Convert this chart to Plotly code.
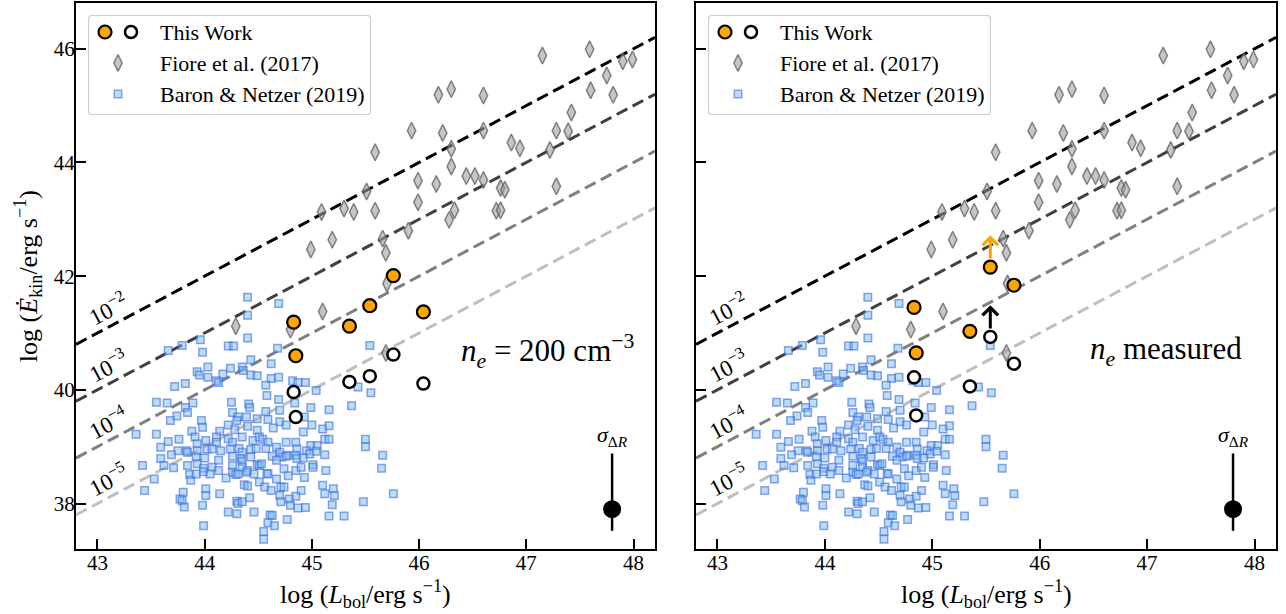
import plotly.graph_objects as go

# ---------------- data ----------------
# Fiore et al. (2017): log L_bol, log E_kin
fiore_lbol = [47.15, 47.59, 47.90, 47.99, 47.75, 47.60, 47.81, 46.18, 46.30, 46.60,
              47.42, 45.93, 46.22, 46.60, 47.28, 47.39, 45.59, 46.30, 46.86, 46.94,
              47.22, 46.30, 45.99, 46.16, 46.44, 46.52, 46.60, 46.76, 46.80, 47.28,
              45.51, 45.09, 45.30, 45.39, 45.59, 45.99, 46.33, 46.28, 46.72, 46.76,
              44.99, 45.19, 45.66, 45.90, 45.69, 45.70, 45.10, 44.29, 44.80, 45.69]
fiore_ekin = [45.88, 45.99, 45.78, 45.81, 45.53, 45.27, 45.19, 45.19, 45.29, 45.18,
              44.88, 44.56, 44.52, 44.56, 44.56, 44.55, 44.18, 44.24, 44.35, 44.25,
              44.22, 43.93, 43.68, 43.62, 43.76, 43.76, 43.69, 43.55, 43.52, 43.58,
              43.49, 43.13, 43.19, 43.13, 43.15, 43.30, 43.16, 42.99, 43.15, 43.16,
              42.47, 42.64, 42.66, 42.80, 42.41, 41.87, 41.38, 41.12, 41.06, 40.65]

# Baron & Netzer (2019): log L_bol, log E_kin
baron_lbol = [44.40, 44.69, 44.40, 44.40, 43.96, 43.79, 43.66, 43.98, 44.22, 44.27,
              44.68, 45.54, 44.43, 44.62, 44.03, 44.24, 44.35, 44.36, 43.93, 43.95,
              44.03, 44.17, 44.43, 44.49, 44.62, 44.69, 44.11, 44.13, 43.72, 43.82,
              44.57, 44.82, 44.87, 44.94, 45.04, 45.43, 45.55, 44.58, 44.69, 43.55,
              43.65, 43.89, 44.25, 44.41, 44.42, 44.84, 44.99, 45.16, 45.37, 43.82,
              43.84, 43.74, 43.68, 43.97, 43.98, 44.26, 44.31, 44.30, 44.39, 44.49,
              44.57, 44.59, 44.70, 44.70, 44.76, 44.22, 44.28, 44.40, 44.49, 44.64,
              44.93, 45.00, 44.92, 45.10, 45.16, 43.36, 43.55, 43.88, 44.14, 44.11,
              44.11, 43.66, 43.76, 43.91, 43.93, 44.01, 44.22, 44.26, 44.35, 44.45,
              44.51, 44.54, 44.59, 44.67, 44.76, 44.85, 44.86, 44.99, 45.05, 45.12,
              45.16, 45.50, 45.50, 43.59, 43.75, 43.83, 43.84, 43.93, 44.02, 44.07,
              44.15, 44.24, 44.32, 44.35, 44.43, 44.48, 44.57, 44.70, 44.77, 44.85,
              44.95, 44.98, 45.04, 45.12, 45.66, 43.59, 43.69, 43.92, 44.00, 44.13,
              44.26, 44.34, 44.35, 44.43, 44.63, 44.72, 44.76, 44.86, 44.92, 45.01,
              45.01, 43.42, 43.62, 43.71, 43.84, 43.93, 43.99, 44.07, 44.13, 44.26,
              44.26, 44.35, 44.40, 44.49, 44.51, 44.53, 44.58, 44.67, 44.74, 44.85,
              44.90, 45.13, 45.65, 43.53, 43.86, 43.87, 43.92, 43.99, 44.05, 44.20,
              44.29, 44.31, 44.39, 44.46, 44.51, 44.59, 44.67, 44.78, 44.93, 43.44,
              43.80, 44.01, 44.01, 44.14, 44.37, 44.40, 44.56, 44.62, 44.71, 44.74,
              44.90, 45.10, 45.12, 45.20, 45.21, 45.76, 43.77, 43.79, 43.81, 43.98,
              44.30, 44.31, 44.35, 44.42, 44.70, 44.71, 44.79, 44.85, 44.80, 44.87,
              44.94, 45.19, 45.48, 44.22, 44.30, 44.46, 44.61, 44.63, 44.77, 45.16,
              45.30, 43.99, 44.59, 44.65, 44.55, 44.55]
baron_ekin = [41.63, 41.52, 41.31, 40.91, 40.88, 40.78, 40.69, 40.66, 40.77, 40.77,
              40.73, 40.78, 40.53, 40.46, 40.40, 40.38, 40.40, 40.34, 40.32, 40.26,
              40.22, 40.28, 40.26, 40.25, 40.20, 40.22, 40.16, 40.13, 40.06, 40.11,
              40.08, 40.16, 40.13, 40.13, 39.99, 40.05, 39.95, 39.90, 39.83, 39.78,
              39.77, 39.77, 39.78, 39.75, 39.69, 39.77, 39.69, 39.65, 39.72, 39.69,
              39.60, 39.54, 39.46, 39.46, 39.34, 39.60, 39.52, 39.46, 39.52, 39.49,
              39.62, 39.48, 39.64, 39.44, 39.38, 39.38, 39.30, 39.36, 39.29, 39.33,
              39.52, 39.38, 39.26, 39.31, 39.37, 39.22, 39.22, 39.27, 39.27, 39.17,
              39.08, 39.09, 39.13, 39.17, 39.05, 39.11, 39.14, 39.08, 39.17, 39.11,
              39.17, 39.13, 39.08, 38.99, 39.08, 39.08, 38.96, 39.02, 39.02, 39.13,
              39.13, 39.13, 39.00, 38.99, 38.93, 38.93, 38.90, 38.93, 38.96, 38.96,
              38.93, 38.96, 38.97, 38.90, 38.95, 38.97, 38.97, 38.90, 38.85, 38.85,
              38.93, 38.87, 38.92, 38.86, 38.85, 38.79, 38.86, 38.82, 38.80, 38.76,
              38.83, 38.79, 38.74, 38.82, 38.83, 38.82, 38.83, 38.79, 38.80, 38.68,
              38.64, 38.67, 38.67, 38.63, 38.67, 38.70, 38.62, 38.64, 38.58, 38.67,
              38.55, 38.64, 38.58, 38.68, 38.67, 38.70, 38.53, 38.76, 38.61, 38.58,
              38.64, 38.58, 38.62, 38.43, 38.51, 38.41, 38.52, 38.56, 38.52, 38.45,
              38.51, 38.52, 38.55, 38.52, 38.38, 38.52, 38.43, 38.49, 38.46, 38.23,
              38.20, 38.26, 38.14, 38.17, 38.33, 38.31, 38.29, 38.23, 38.29, 38.29,
              38.23, 38.32, 38.17, 38.26, 38.14, 38.17, 38.08, 38.05, 37.94, 37.97,
              38.04, 38.00, 38.03, 38.10, 38.14, 38.03, 38.08, 38.13, 37.97, 37.92,
              37.93, 37.98, 38.03, 37.85, 37.82, 37.85, 37.80, 37.79, 37.72, 37.78,
              37.78, 37.61, 37.66, 37.61, 37.51, 37.37]

# This work, fixed density n_e = 200 cm^-3
work_lbol_fixed = [44.83, 44.85, 45.35, 45.54, 45.76, 46.04]
work_ekin_fixed_filled = [41.19, 40.60, 41.12, 41.48, 42.01, 41.37]
work_ekin_fixed_open = [39.96, 39.52, 40.14, 40.24, 40.62, 40.11]

# This work, measured density
work_lbol_meas = [44.83, 44.85, 45.35, 45.54, 45.76]
work_ekin_meas_filled = [41.45, 40.65, 41.03, 42.16, 41.84]
work_ekin_meas_open = [40.22, 39.55, 40.06, 40.93, 40.46]
work_meas_lower_limit = [False, False, False, True, False]

# Coupling efficiencies E_kin / L_bol (log) for the reference lines
coupling_log = [-2, -3, -4, -5]
coupling_labels = ["10<sup>−2</sup>", "10<sup>−3</sup>", "10<sup>−4</sup>", "10<sup>−5</sup>"]

# Representative uncertainty
sigma_lbol, sigma_ekin = 47.8, 37.9
sigma_up, sigma_down = 0.98, 0.38

# Axes
x_range = [42.8, 48.2]
y_range = [37.2, 46.8]
x_ticks = [43, 44, 45, 46, 47, 48]
y_ticks = [38, 40, 42, 44, 46]

# ---------------- styling ----------------
W, H = 1286, 614
SERIF = "Liberation Serif"
line_colors = ["#000000", "#404040", "#808080", "#bfbfbf"]
ORANGE = "#FFA500"
diamond_style = dict(symbol="diamond-tall", size=12, color="rgba(160,160,160,0.6)",
                     line=dict(color="rgba(95,95,95,0.75)", width=1.5))
square_style = dict(symbol="square", size=7.5, color="rgba(120,190,240,0.5)",
                    line=dict(color="rgba(65,105,225,0.6)", width=1.5))
filled_style = dict(symbol="circle", size=13, color=ORANGE, line=dict(color="black", width=2.2))
open_style = dict(symbol="circle", size=12, color="white", line=dict(color="black", width=2.5))

# panel geometry in pixels
panel_x = [(76, 655), (696, 1276)]
panel_top, panel_bottom = 3.3, 549


def px_x(p):
    return p / W


def px_y(p):
    return 1 - p / H


fig = go.Figure()

panels = [
    dict(xa="x", ya="y", lbol=work_lbol_fixed, filled=work_ekin_fixed_filled,
         open=work_ekin_fixed_open, limits=[False] * len(work_lbol_fixed),
         note="<i>n</i><sub><i>e</i></sub> = 200 cm<sup>−3</sup>", note_x=47.2),
    dict(xa="x2", ya="y2", lbol=work_lbol_meas, filled=work_ekin_meas_filled,
         open=work_ekin_meas_open, limits=work_meas_lower_limit,
         note="<i>n</i><sub><i>e</i></sub> measured", note_x=47.18),
]

annotations = []
shapes = []
LIMIT_ARROW_LEN = 0.56

for p in panels:
    xa, ya = p["xa"], p["ya"]
    # constant-efficiency lines
    for c, col, lab in zip(coupling_log, line_colors, coupling_labels):
        fig.add_trace(go.Scatter(
            x=x_range, y=[x_range[0] + c, x_range[1] + c], mode="lines",
            line=dict(color=col, width=3, dash="12px,6px"),
            xaxis=xa, yaxis=ya, showlegend=False, hoverinfo="skip"))
        lx = 43.1
        annotations.append(dict(
            x=lx, y=lx + c + 0.33, xref=xa, yref=ya, text=lab, showarrow=False,
            xanchor="center", yanchor="middle",
            textangle=-27.9, font=dict(family=SERIF, size=23, color="black")))
    fig.add_trace(go.Scatter(x=baron_lbol, y=baron_ekin, mode="markers", marker=square_style,
                             xaxis=xa, yaxis=ya, showlegend=False, name="Baron & Netzer (2019)"))
    fig.add_trace(go.Scatter(x=fiore_lbol, y=fiore_ekin, mode="markers", marker=diamond_style,
                             xaxis=xa, yaxis=ya, showlegend=False, name="Fiore et al. (2017)"))
    # lower-limit arrows
    for xv, yf, yo, lim in zip(p["lbol"], p["filled"], p["open"], p["limits"]):
        if not lim:
            continue
        for yv, col in ((yf, ORANGE), (yo, "black")):
            annotations.append(dict(
                x=xv, y=yv + LIMIT_ARROW_LEN, ax=xv, ay=yv, xref=xa, yref=ya,
                axref=xa, ayref=ya, text="", showarrow=True, arrowhead=4,
                arrowsize=1.0, arrowwidth=3, arrowcolor=col, startstandoff=7, standoff=0))
    fig.add_trace(go.Scatter(x=p["lbol"], y=p["open"], mode="markers", marker=open_style,
                             xaxis=xa, yaxis=ya, showlegend=False, name="This Work"))
    fig.add_trace(go.Scatter(x=p["lbol"], y=p["filled"], mode="markers", marker=filled_style,
                             xaxis=xa, yaxis=ya, showlegend=False, name="This Work"))
    # representative error bar
    fig.add_trace(go.Scatter(
        x=[sigma_lbol], y=[sigma_ekin], mode="markers",
        marker=dict(symbol="circle", size=18, color="black"),
        error_y=dict(type="data", symmetric=False, array=[sigma_up], arrayminus=[sigma_down],
                     color="black", thickness=2.5, width=0),
        xaxis=xa, yaxis=ya, showlegend=False, hoverinfo="skip"))
    annotations.append(dict(x=sigma_lbol, y=39.18, xref=xa, yref=ya, showarrow=False,
                            xanchor="center", yanchor="middle",
                            text="<i>σ</i><sub>Δ<i>R</i></sub>",
                            font=dict(family=SERIF, size=22, color="black")))
    annotations.append(dict(x=p["note_x"], y=40.68, xref=xa, yref=ya, showarrow=False,
                            xanchor="center", yanchor="middle",
                            text=p["note"], font=dict(family=SERIF, size=31, color="black")))

# ---------------- legends (one per panel) ----------------
LEG_W, LEG_H = 283, 100
leg_rows = [17, 48, 79]
leg_text_x = 70
leg_names = ["This Work", "Fiore et al. (2017)", "Baron & Netzer (2019)"]
legend_left = [88, 708]
legend_top = 15
r = 4
box_path = (f"M{r},0.5 H{LEG_W - r} Q{LEG_W - 0.5},0.5 {LEG_W - 0.5},{r} "
            f"V{LEG_H - r} Q{LEG_W - 0.5},{LEG_H - 0.5} {LEG_W - r},{LEG_H - 0.5} "
            f"H{r} Q0.5,{LEG_H - 0.5} 0.5,{LEG_H - r} V{r} Q0.5,0.5 {r},0.5 Z")
for i, x0 in enumerate(legend_left):
    xa, ya = f"x{i + 3}", f"y{i + 3}"
    shapes.append(dict(type="path", path=box_path, xref=xa, yref=ya, layer="below",
                       line=dict(color="#cccccc", width=1.2), fillcolor="rgba(255,255,255,0.85)"))
    fig.add_trace(go.Scatter(x=[17], y=[leg_rows[0]], mode="markers", marker=filled_style,
                             xaxis=xa, yaxis=ya, showlegend=False, hoverinfo="skip"))
    fig.add_trace(go.Scatter(x=[43], y=[leg_rows[0]], mode="markers", marker=open_style,
                             xaxis=xa, yaxis=ya, showlegend=False, hoverinfo="skip"))
    fig.add_trace(go.Scatter(x=[30], y=[leg_rows[1]], mode="markers", marker=diamond_style,
                             xaxis=xa, yaxis=ya, showlegend=False, hoverinfo="skip"))
    fig.add_trace(go.Scatter(x=[30], y=[leg_rows[2]], mode="markers", marker=square_style,
                             xaxis=xa, yaxis=ya, showlegend=False, hoverinfo="skip"))
    for name, ry in zip(leg_names, leg_rows):
        annotations.append(dict(x=leg_text_x, y=ry, xref=xa, yref=ya, text=name,
                                showarrow=False, xanchor="left", yanchor="middle",
                                font=dict(family=SERIF, size=22, color="black")))

# ---------------- axis titles ----------------
for (a, b) in panel_x:
    annotations.append(dict(x=px_x((a + b) / 2), y=px_y(594), xref="paper", yref="paper",
                            xanchor="center", yanchor="middle",
                            text="log (<i>L</i><sub>bol</sub>/erg s<sup>−1</sup>)",
                            showarrow=False, font=dict(family=SERIF, size=26, color="black")))
annotations.append(dict(x=px_x(28), y=px_y((panel_top + panel_bottom) / 2), xref="paper",
                        yref="paper", xanchor="center", yanchor="middle",
                        text="log (<i>Ė</i><sub>kin</sub>/erg s<sup>−1</sup>)",
                        showarrow=False, textangle=-90,
                        font=dict(family=SERIF, size=26, color="black")))

axis_common = dict(showline=True, linecolor="black", linewidth=2, mirror=True,
                   ticks="inside", ticklen=10, tickwidth=2, tickcolor="black",
                   showgrid=False, zeroline=False,
                   tickfont=dict(family=SERIF, size=21, color="black"))
ydom = [px_y(panel_bottom), px_y(panel_top)]

layout = dict(
    width=W, height=H, margin=dict(l=0, r=0, t=0, b=0),
    font=dict(family=SERIF, color="black"),
    paper_bgcolor="white", plot_bgcolor="white", showlegend=False,
    annotations=annotations, shapes=shapes,
    xaxis=dict(domain=[px_x(panel_x[0][0]), px_x(panel_x[0][1])], range=x_range,
               tickvals=x_ticks, anchor="y", ticklabelstandoff=-6, **axis_common),
    yaxis=dict(domain=ydom, range=y_range, tickvals=y_ticks, anchor="x",
               ticklabelstandoff=-5, **axis_common),
    xaxis2=dict(domain=[px_x(panel_x[1][0]), px_x(panel_x[1][1])], range=x_range,
                tickvals=x_ticks, anchor="y2", ticklabelstandoff=-6, **axis_common),
    yaxis2=dict(domain=ydom, range=y_range, tickvals=y_ticks, anchor="x2",
                showticklabels=False, **axis_common),
)
for i, x0 in enumerate(legend_left):
    n = i + 3
    layout[f"xaxis{n}"] = dict(domain=[px_x(x0), px_x(x0 + LEG_W)], range=[0, LEG_W],
                               visible=False, fixedrange=True, anchor=f"y{n}")
    layout[f"yaxis{n}"] = dict(domain=[px_y(legend_top + LEG_H), px_y(legend_top)],
                               range=[LEG_H, 0], visible=False, fixedrange=True,
                               anchor=f"x{n}")
fig.update_layout(**layout)

fig.write_html("out.html")
